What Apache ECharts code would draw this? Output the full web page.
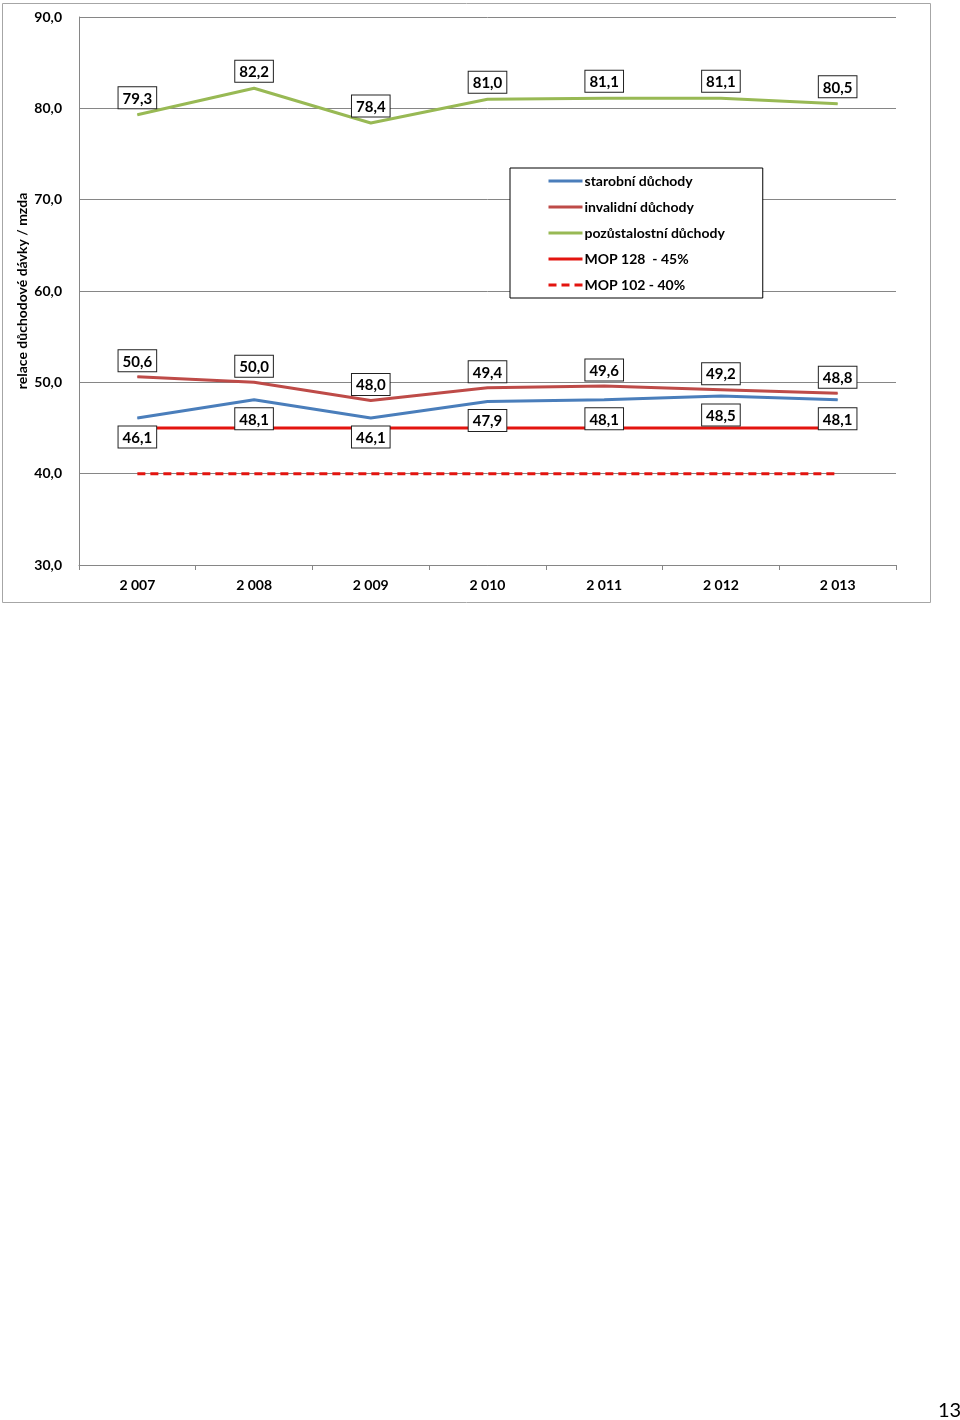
<!DOCTYPE html>
<html><head><meta charset="utf-8">
<script src="https://cdn.jsdelivr.net/npm/echarts@6/dist/echarts.min.js"></script>
<style>html,body{margin:0;padding:0;background:#fff}#c{width:960px;height:1420px}</style>
</head><body><div id="c"></div>
<script>
var categories = ['2 007','2 008','2 009','2 010','2 011','2 012','2 013'];
var starobni = [46.1, 48.1, 46.1, 47.9, 48.1, 48.5, 48.1];
var invalidni = [50.6, 50.0, 48.0, 49.4, 49.6, 49.2, 48.8];
var pozustalostni = [79.3, 82.2, 78.4, 81.0, 81.1, 81.1, 80.5];
var mop128 = [45, 45, 45, 45, 45, 45, 45];
var mop102 = [40, 40, 40, 40, 40, 40, 40];
var seriesNames = ['starobní důchody','invalidní důchody','pozůstalostní důchody','MOP 128  - 45%','MOP 102 - 40%'];
var yTicks = {min: 30, max: 90, interval: 10};
var axisTitle = 'relace důchodové dávky / mzda';
var pageNumber = '13';

var FONT = 'Lato, "Open Sans", sans-serif';
function fmt(v){ return v.toFixed(1).replace('.', ','); }
function lbl(pos, dist){
  return {show:true, position:pos, distance:dist, formatter:function(p){return fmt(p.value);},
    color:'#000', fontFamily:FONT, fontWeight:'bold', fontSize:15,
    backgroundColor:'#fff', borderColor:'#222', borderWidth:1, padding:[4,4,2,4]};
}
function lineSeries(name, data, color, pos, dist){
  return {name:name, type:'line', data:data, symbol:'circle', symbolSize:1, showSymbol:true, z:4,
    lineStyle:{color:color, width:3}, itemStyle:{color:color}, label:lbl(pos, dist)};
}
var chart = echarts.init(document.getElementById('c'), null, {renderer:'canvas'});
chart.setOption({
  animation:false,
  backgroundColor:'#fff',
  grid:{left:79, top:17, right:64, height:548},
  legend:{
    orient:'vertical', left:510, top:168,
    data:seriesNames,
    itemWidth:34, itemHeight:14, itemGap:12,
    padding:[6,38,6,37],
    borderColor:'#000', borderWidth:1, backgroundColor:'#fff',
    itemStyle:{opacity:0},
    lineStyle:{width:3},
    textStyle:{fontFamily:FONT, fontWeight:'bold', fontSize:14, color:'#000', padding:[0,0,0,-3]}
  },
  xAxis:{
    type:'category', data:categories, boundaryGap:true,
    axisLine:{lineStyle:{color:'#868686', width:1}},
    axisTick:{show:true, length:5, lineStyle:{color:'#868686'}},
    axisLabel:{color:'#000', fontFamily:FONT, fontWeight:'bold', fontSize:14, margin:13},
    splitLine:{show:false}
  },
  yAxis:{
    type:'value', min:yTicks.min, max:yTicks.max, interval:yTicks.interval,
    name:axisTitle, nameLocation:'middle', nameGap:50, nameRotate:90, nameMoveOverlap:false,
    nameTextStyle:{color:'#000', fontFamily:FONT, fontWeight:'bold', fontSize:14},
    axisLine:{show:true, lineStyle:{color:'#868686'}},
    axisTick:{show:false},
    axisLabel:{color:'#000', fontFamily:FONT, fontWeight:'bold', fontSize:14, margin:17, formatter:function(v){return fmt(v);}},
    splitLine:{lineStyle:{color:'#868686', width:1}}
  },
  series:[
    lineSeries(seriesNames[0], starobni, '#4A7EBB', 'bottom', 8),
    lineSeries(seriesNames[1], invalidni, '#BE4B48', 'top', 5),
    lineSeries(seriesNames[2], pozustalostni, '#98B954', 'top', 6),
    {name:seriesNames[3], type:'line', data:mop128, symbol:'none', z:3,
     lineStyle:{color:'#E3140F', width:3}, itemStyle:{color:'#E3140F'}},
    {name:seriesNames[4], type:'line', data:mop102, symbol:'none', z:3,
     lineStyle:{color:'#E3140F', width:3, type:[8,5]}, itemStyle:{color:'#E3140F'}}
  ],
  graphic:[
    {type:'rect', shape:{x:2.5, y:3.5, width:928, height:599}, style:{fill:null, stroke:'#A6A6A6', lineWidth:1}, z:-1, silent:true},
    {type:'text', left:938, top:1401, style:{text:pageNumber, fill:'#000', font:'20px ' + FONT}}
  ]
});
</script></body></html>
